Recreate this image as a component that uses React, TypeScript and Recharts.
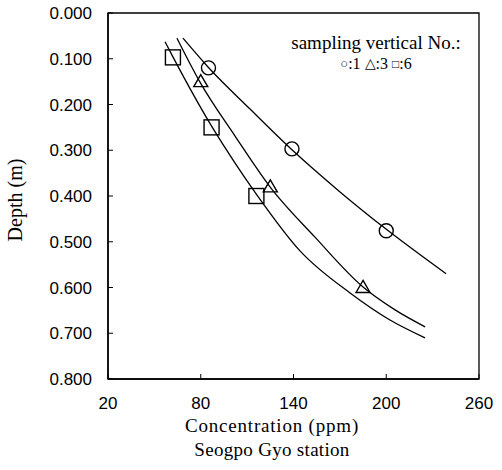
import React from "react";
import {
  ComposedChart,
  Line,
  Scatter,
  XAxis,
  YAxis,
  ReferenceArea,
} from "recharts";

// axis ticks
const xTicks = [20, 80, 140, 200, 260];
const yTicks = [0, 0.1, 0.2, 0.3, 0.4, 0.5, 0.6, 0.7, 0.8];

// measured points (concentration ppm / depth m)
const v1Conc = [85, 139, 200];
const v1Depth = [0.12, 0.297, 0.476];
const v3Conc = [80, 125, 185];
const v3Depth = [0.15, 0.38, 0.6];
const v6Conc = [62, 87, 116];
const v6Depth = [0.097, 0.25, 0.4];

// fitted curves
const c1Conc = [68.5, 84.7, 111.9, 139, 170.1, 200.5, 238.7];
const c1Depth = [0.055, 0.118, 0.21, 0.299, 0.391, 0.474, 0.57];
const c3Conc = [64.6, 79.5, 102.2, 124.8, 153.9, 185, 205.7, 225.1];
const c3Depth = [0.055, 0.151, 0.269, 0.38, 0.49, 0.599, 0.649, 0.686];
const c6Conc = [56.9, 62, 87.3, 102.2, 116.4, 144.2, 176.6, 202.4, 225.1];
const c6Depth = [0.063, 0.096, 0.249, 0.328, 0.398, 0.52, 0.612, 0.671, 0.71];

const zip = (xs: number[], ys: number[]) => xs.map((x, i) => ({ x, y: ys[i] }));

const serif = "'Liberation Serif', 'Times New Roman', serif";
const sans = "'Liberation Sans', Arial, sans-serif";

const CircleMark = (props: any) => (
  <circle cx={props.cx} cy={props.cy} r={7} fill="none" stroke="#000" strokeWidth={1.4} />
);

const TriangleMark = (props: any) => {
  const { cx, cy } = props;
  return (
    <path
      d={`M${cx - 7},${cy + 5} L${cx + 7},${cy + 5} L${cx},${cy - 7} Z`}
      fill="none"
      stroke="#000"
      strokeWidth={1.4}
    />
  );
};

const SquareMark = (props: any) => (
  <rect x={props.cx - 7.5} y={props.cy - 7.5} width={15} height={15} fill="none" stroke="#000" strokeWidth={1.4} />
);

const XTitle = () => (
  <g>
    <text x={272} y={432} textAnchor="middle" fontFamily={serif} fontSize={19} fill="#000" letterSpacing={0.8}>
      Concentration (ppm)
    </text>
    <text x={272} y={456} textAnchor="middle" fontFamily={serif} fontSize={19} fill="#000" letterSpacing={0.3}>
      Seogpo Gyo station
    </text>
  </g>
);

const YTitle = () => (
  <text
    x={22}
    y={200}
    transform="rotate(-90 22 200)"
    textAnchor="middle"
    fontFamily={serif}
    fontSize={20}
    fill="#000"
  >
    Depth (m)
  </text>
);

const sym = { verticalAlign: "1px" } as React.CSSProperties;

export default function App() {
  return (
    <div style={{ position: "absolute", left: 0, top: 0, width: 502, height: 470, background: "#fff" }}>
      <ComposedChart width={502} height={470} margin={{ top: 13, right: 23, left: 0, bottom: 0 }}>
        <XAxis
          type="number"
          dataKey="x"
          domain={[20, 260]}
          ticks={xTicks}
          height={91}
          tickSize={-5}
          tickMargin={23}
          axisLine={{ stroke: "#000", strokeWidth: 1.5 }}
          tickLine={{ stroke: "#000" }}
          tick={{ fill: "#000", fontSize: 17, fontFamily: sans }}
          label={<XTitle />}
          allowDataOverflow
        />
        <YAxis
          type="number"
          dataKey="y"
          domain={[0, 0.8]}
          reversed
          ticks={yTicks}
          width={108}
          tickSize={-5}
          tickMargin={21}
          tickFormatter={(v: number) => v.toFixed(3)}
          axisLine={{ stroke: "#000", strokeWidth: 1.5 }}
          tickLine={{ stroke: "#000" }}
          tick={{ fill: "#000", fontSize: 17, fontFamily: sans }}
          label={<YTitle />}
          allowDataOverflow
        />
        <ReferenceArea x1={20} x2={260} y1={0} y2={0.8} fill="none" stroke="#000" strokeWidth={1.3} />
        <Line data={zip(c1Conc, c1Depth)} dataKey="y" type="monotone" stroke="#000" strokeWidth={1.3} dot={false} isAnimationActive={false} />
        <Line data={zip(c3Conc, c3Depth)} dataKey="y" type="monotone" stroke="#000" strokeWidth={1.3} dot={false} isAnimationActive={false} />
        <Line data={zip(c6Conc, c6Depth)} dataKey="y" type="monotone" stroke="#000" strokeWidth={1.3} dot={false} isAnimationActive={false} />
        <Scatter data={zip(v1Conc, v1Depth)} shape={CircleMark} isAnimationActive={false} />
        <Scatter data={zip(v3Conc, v3Depth)} shape={TriangleMark} isAnimationActive={false} />
        <Scatter data={zip(v6Conc, v6Depth)} shape={SquareMark} isAnimationActive={false} />
      </ComposedChart>
      <div
        style={{
          position: "absolute",
          left: 276,
          top: 32,
          width: 200,
          textAlign: "center",
          fontFamily: serif,
          color: "#000",
        }}
      >
        <div style={{ fontSize: 19, lineHeight: "21px" }}>sampling vertical No.:</div>
        <div style={{ fontSize: 16, lineHeight: "22px" }}>
          <span style={{ ...sym, fontSize: 13 }}>○</span>:1 <span style={{ ...sym, fontSize: 14 }}>△</span>:3{" "}
          <span style={{ ...sym, fontSize: 12 }}>□</span>:6
        </div>
      </div>
    </div>
  );
}
